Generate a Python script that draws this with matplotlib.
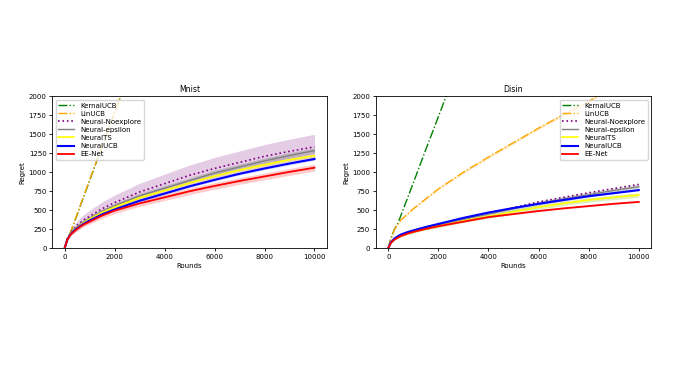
import matplotlib.pyplot as plt
import numpy as np

rounds = [0, 100, 250, 500, 750, 1000, 1500, 2000, 3000, 4000, 5000, 6000, 7000, 8000, 9000, 10000]

# ---- Mnist ----
mn_kernal_x = [0, 500, 1000, 1500, 2000, 2250]
mn_kernal = [0, 440, 890, 1340, 1790, 2010]
mn_lin_x = [0, 500, 1000, 1500, 2000, 2260]
mn_lin = [0, 450, 900, 1345, 1785, 2010]
mn_noexp = [0, 120, 210, 300, 370, 420, 520, 600, 740, 850, 960, 1050, 1130, 1210, 1275, 1335]
mn_noexp_sd = [0, 20, 40, 60, 70, 80, 90, 100, 115, 125, 135, 145, 150, 155, 160, 165]
mn_eps = [0, 115, 200, 285, 345, 395, 485, 560, 690, 790, 890, 990, 1070, 1150, 1220, 1285]
mn_eps_sd = [0, 8, 12, 18, 22, 25, 28, 30, 32, 34, 35, 36, 37, 38, 38, 38]
mn_ts = [0, 112, 195, 275, 335, 385, 470, 540, 665, 760, 860, 950, 1030, 1100, 1165, 1220]
mn_ts_sd = [0, 5, 8, 10, 12, 14, 15, 16, 17, 18, 18, 19, 19, 20, 20, 20]
mn_ucb = [0, 110, 190, 265, 320, 365, 445, 510, 625, 720, 815, 900, 980, 1050, 1115, 1175]
mn_ucb_sd = [0, 4, 6, 8, 10, 11, 12, 13, 14, 15, 15, 16, 16, 16, 17, 17]
mn_ee = [0, 108, 185, 255, 310, 350, 430, 495, 590, 670, 750, 820, 885, 945, 1005, 1060]
mn_ee_sd = [0, 10, 18, 25, 30, 33, 36, 38, 40, 42, 43, 44, 44, 45, 45, 45]

# ---- Disin ----
ds_kernal_x = [0, 100, 250, 400, 1000, 1500, 2000, 2320]
ds_kernal = [0, 130, 250, 340, 860, 1300, 1730, 2010]
ds_lin_x = [0, 100, 250, 500, 1000, 2000, 3000, 4000, 5000, 6000, 7000, 8000, 8350]
ds_lin = [0, 110, 250, 370, 520, 780, 1000, 1200, 1390, 1580, 1760, 1930, 2010]
ds_lin_sd = [0, 5, 8, 10, 12, 15, 18, 20, 20, 20, 20, 20, 20]
ds_noexp = [0, 70, 120, 170, 200, 225, 265, 300, 385, 460, 535, 610, 670, 730, 785, 840]
ds_eps = [0, 70, 120, 170, 200, 225, 265, 300, 380, 450, 520, 590, 650, 705, 760, 810]
ds_eps_sd = [0, 5, 8, 10, 12, 14, 16, 18, 22, 25, 27, 28, 29, 30, 30, 30]
ds_ts = [0, 68, 115, 160, 190, 215, 255, 290, 360, 420, 480, 540, 590, 635, 670, 700]
ds_ts_sd = [0, 5, 8, 10, 12, 14, 16, 18, 22, 25, 27, 28, 29, 30, 30, 30]
ds_ucb = [0, 75, 130, 180, 210, 235, 280, 320, 400, 470, 530, 585, 635, 685, 725, 765]
ds_ucb_sd = [0, 3, 4, 5, 6, 6, 7, 7, 8, 8, 8, 9, 9, 9, 9, 9]
ds_ee = [0, 68, 115, 160, 190, 215, 255, 290, 350, 410, 450, 490, 525, 555, 585, 610]
ds_ee_sd = [0, 3, 4, 5, 6, 6, 7, 7, 8, 8, 8, 9, 9, 9, 9, 9]

plt.rcParams['font.size'] = 5.0

fig = plt.figure(figsize=(6.77, 3.79), dpi=100)
ax1 = fig.add_axes([0.077, 0.345, 0.406, 0.401])
ax2 = fig.add_axes([0.555, 0.345, 0.407, 0.401])

r = np.array(rounds)


def band(ax, x, y, sd, color, alpha):
    y = np.array(y)
    sd = np.array(sd)
    ax.fill_between(x, y - sd, y + sd, color=color, alpha=alpha, linewidth=0)


# Mnist panel
band(ax1, r, mn_noexp, mn_noexp_sd, 'purple', 0.2)
band(ax1, r, mn_eps, mn_eps_sd, 'grey', 0.35)
band(ax1, r, mn_ts, mn_ts_sd, 'yellow', 0.3)
band(ax1, r, mn_ucb, mn_ucb_sd, 'blue', 0.2)
band(ax1, r, mn_ee, mn_ee_sd, 'red', 0.2)
ax1.plot(mn_kernal_x, mn_kernal, '-.', color='green', lw=1.0, label='KernalUCB')
ax1.plot(mn_lin_x, mn_lin, '-.', color='orange', lw=1.0, label='LinUCB')
ax1.plot(r, mn_noexp, ':', color='purple', lw=1.2, label='Neural-Noexplore')
ax1.plot(r, mn_eps, '-', color='grey', lw=1.0, label='Neural-epsilon')
ax1.plot(r, mn_ts, '-', color='yellow', lw=1.2, label='NeuralTS')
ax1.plot(r, mn_ucb, '-', color='blue', lw=1.5, label='NeuralUCB')
ax1.plot(r, mn_ee, '-', color='red', lw=1.3, label='EE-Net')
ax1.set_title('Mnist', fontsize=5.6, pad=3)
ax1.legend(loc='upper left', fontsize=5.0, handlelength=2.3, labelspacing=0.3)

# Disin panel
band(ax2, np.array(ds_lin_x), ds_lin, ds_lin_sd, 'orange', 0.2)
band(ax2, r, ds_eps, ds_eps_sd, 'grey', 0.3)
band(ax2, r, ds_ts, ds_ts_sd, 'yellowgreen', 0.3)
band(ax2, r, ds_ucb, ds_ucb_sd, 'blue', 0.2)
band(ax2, r, ds_ee, ds_ee_sd, 'red', 0.2)
ax2.plot(ds_kernal_x, ds_kernal, '-.', color='green', lw=1.0, label='KernalUCB')
ax2.plot(ds_lin_x, ds_lin, '-.', color='orange', lw=1.0, label='LinUCB')
ax2.plot(r, ds_noexp, ':', color='purple', lw=1.2, label='Neural-Noexplore')
ax2.plot(r, ds_eps, '-', color='grey', lw=1.0, label='Neural-epsilon')
ax2.plot(r, ds_ts, '-', color='yellow', lw=1.2, label='NeuralTS')
ax2.plot(r, ds_ucb, '-', color='blue', lw=1.5, label='NeuralUCB')
ax2.plot(r, ds_ee, '-', color='red', lw=1.3, label='EE-Net')
ax2.set_title('Disin', fontsize=5.6, pad=3)
ax2.legend(loc='upper right', fontsize=5.0, handlelength=2.3, labelspacing=0.3)

for ax in (ax1, ax2):
    ax.set_ylim(0, 2000)
    ax.set_xlim(-500, 10500)
    ax.set_xticks([0, 2000, 4000, 6000, 8000, 10000])
    ax.set_yticks(np.arange(0, 2001, 250))
    ax.set_xlabel('Rounds', labelpad=2.5)
    ax.set_ylabel('Regret', labelpad=2)
    ax.tick_params(length=2.5, pad=1.5, width=0.6)
    for s in ax.spines.values():
        s.set_linewidth(0.6)

fig.savefig('out.png', dpi=100)
